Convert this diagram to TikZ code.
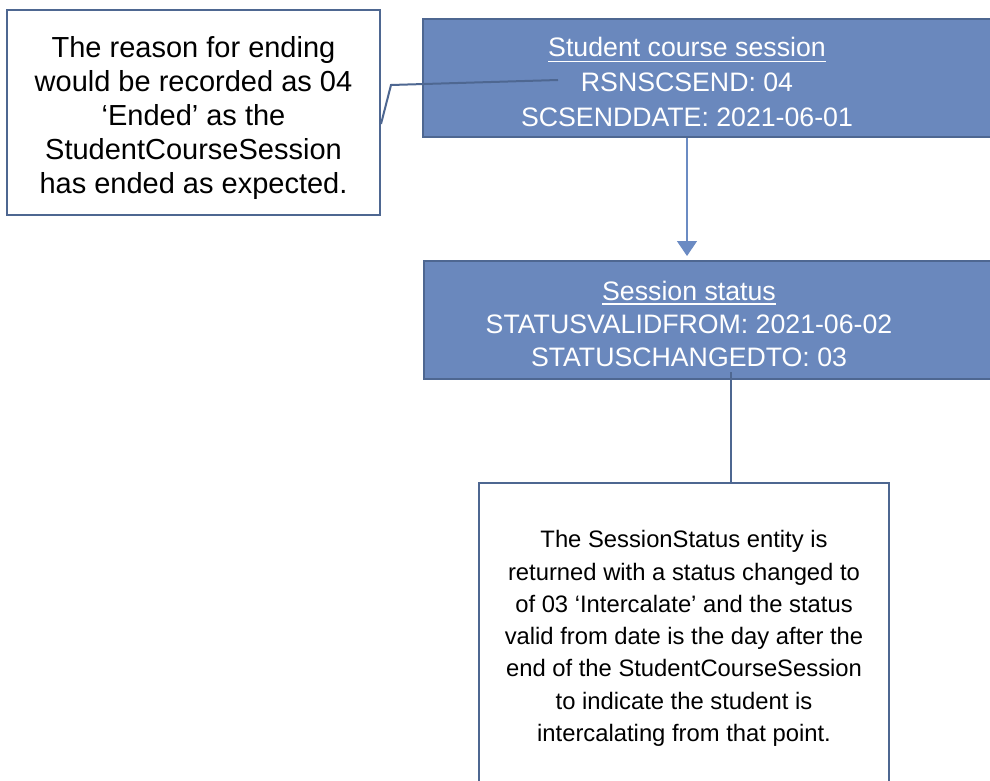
\documentclass[tikz,border=0pt]{standalone}
\usepackage{fontspec}
\setmainfont{Liberation Sans}
\usetikzlibrary{arrows.meta}
\definecolor{boxblue}{HTML}{6A88BD}
\definecolor{edgeblue}{HTML}{4E6791}
\definecolor{arrowblue}{HTML}{6B8BC3}
\begin{document}
\begin{tikzpicture}[x=1pt,y=-1pt,
  whitebox/.style={draw=edgeblue, line width=2pt, fill=white, inner sep=0pt},
  bodytxt/.style={align=center, inner sep=0pt},
  bluebox/.style={draw=edgeblue, line width=2pt, fill=boxblue, inner sep=0pt},
  bluetxt/.style={text=white, font=\fontsize{26.7}{33}\selectfont, anchor=base, inner sep=0pt},
  link/.style={draw=edgeblue, line width=2pt},
  ]
\useasboundingbox (0,0) rectangle (990,781);
\clip (0,0) rectangle (990,781);
\fill[white] (0,0) rectangle (990,781);
% left callout
\node[whitebox, minimum width=373, minimum height=205] (reason) at (193.5,112.5) {};
\node[bodytxt, font=\fontsize{29}{34}\selectfont] (reasontxt) at ([yshift=-5.5pt]reason.center)
  {The reason for ending\\would be recorded as 04\\‘Ended’ as the\\StudentCourseSession\\has ended as expected.};
% top blue box
\node[bluebox, minimum width=577, minimum height=118] (scs) at (711.5,78) {};
\node[bluetxt] (scs1) at (687,57) {Student course session};
\draw[white, line width=1.8pt] ([yshift=-4.5pt]scs1.base west) -- ([yshift=-4.5pt]scs1.base east);
\node[bluetxt] (scs2) at (687,92) {RSNSCSEND: 04};
\node[bluetxt] (scs3) at (687,127) {SCSENDDATE: 2021-06-01};
% second blue box
\node[bluebox, minimum width=576, minimum height=118] (ss) at (712,320) {};
\node[bluetxt] (ss1) at (689,300) {Session status};
\draw[white, line width=1.8pt] ([yshift=-4pt]ss1.base west) -- ([yshift=-4pt]ss1.base east);
\node[bluetxt] (ss2) at (689,333) {STATUSVALIDFROM: 2021-06-02};
\node[bluetxt] (ss3) at (689,366) {STATUSCHANGEDTO: 03};
% bottom callout
\node[whitebox, minimum width=410, minimum height=306] (entity) at (684,636) {};
\node[bodytxt, font=\fontsize{23.8}{32.3}\selectfont] (entitytxt) at ([yshift=-2.5pt]entity.center)
  {The SessionStatus entity is\\returned with a status changed to\\of 03 ‘Intercalate’ and the status\\valid from date is the day after the\\end of the StudentCourseSession\\to indicate the student is\\intercalating from that point.};
% connectors
\coordinate (bend) at (391,85);
\coordinate (scsin) at (558,80);
\draw[link] (reason.east |- 0,124) -- (bend) -- (scsin);
\draw[arrowblue, line width=1.3pt, shorten >=4pt, -{Triangle[length=15pt,width=20pt]}]
  (scs.south -| scs3.base) -- (ss.north -| scs3.base);
\coordinate (ssin) at (731,372);
\draw[link] (ssin) -- (ssin |- entity.north);
\end{tikzpicture}
\end{document}
